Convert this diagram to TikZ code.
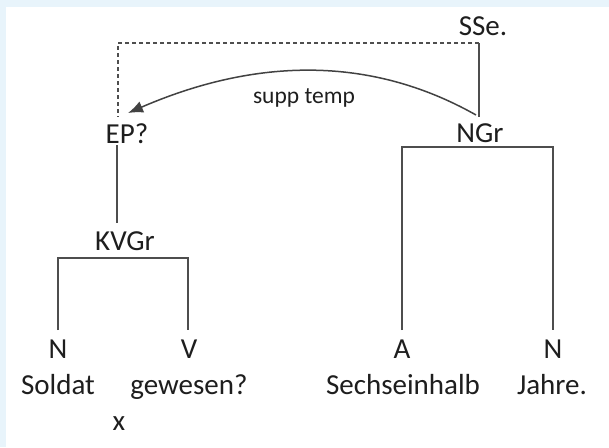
\documentclass[tikz,border=0pt]{standalone}
\usepackage{fontspec}
\setmainfont{Carlito}
\usetikzlibrary{arrows.meta}
\definecolor{bgblue}{HTML}{E8F4FB}
\definecolor{linegray}{HTML}{4E4E4E}
\definecolor{txt}{HTML}{1E1E1E}
\begin{document}
\begin{tikzpicture}[x=1pt,y=-1pt,
  lbl/.style={inner sep=0pt, anchor=base, text=txt, font=\fontsize{29}{31}\selectfont},
  small/.style={inner sep=0pt, anchor=base, text=txt, font=\fontsize{23.5}{25}\selectfont},
  branch/.style={draw=linegray, line width=1.5pt},
  trace/.style={draw=linegray, line width=1.4pt, dash pattern=on 4pt off 3pt},
  rel/.style={draw=linegray!85!black, line width=1.5pt, -{Latex[length=15pt,width=12pt]}}]
\fill[bgblue] (0,0) rectangle (609,447);
\fill[white] (6,7) rectangle (609,447);
\useasboundingbox (0,0) rectangle (609,447);
% labels
\node[lbl] (sse) at (483,35) {SSe.};
\node[lbl] (ep) at (127,143) {EP?};
\node[lbl] (ngr) at (480,142) {NGr};
\node[lbl] (kvgr) at (125,250) {KVGr};
\node[lbl] (n1) at (58,358) {N};
\node[lbl] (v) at (189,358) {V};
\node[lbl] (a) at (402,358) {A};
\node[lbl] (n2) at (553,358) {N};
\node[lbl] (soldat) at (58,394) {Soldat};
\node[lbl] (gewesen) at (189,394) {gewesen?};
\node[lbl] (sechs) at (403,394) {Sechseinhalb};
\node[lbl] (jahre) at (552,394) {Jahre.};
\node[lbl] (x) at (119,430) {x};
\node[small] (supp) at (304,103) {supp temp};
% connector ends
\coordinate (sse-b) at (479,43);
\coordinate (ep-t) at (118,117);
\coordinate (ngr-t) at (479,117);
\coordinate (ngr-a) at (476,115);
\coordinate (ep-a) at (128,113);
\coordinate (ep-b) at (117,145);
\coordinate (kv-t) at (117,223);
\coordinate (kv-bl) at (58,258);
\coordinate (kv-br) at (188,258);
\coordinate (n1-t) at (58,330);
\coordinate (v-t) at (188,330);
\coordinate (ngr-bl) at (402,147);
\coordinate (ngr-br) at (553,147);
\coordinate (a-t) at (402,330);
\coordinate (n2-t) at (553,330);
% connectors
\draw[trace] (sse-b) -| (ep-t);
\draw[branch] (sse-b) -- (ngr-t);
\draw[rel] (ngr-a) .. controls (370,55) and (255,58) .. (ep-a);
\draw[branch] (ep-b) -- (kv-t);
\draw[branch] (n1-t) -- (kv-bl) -- (kv-br) -- (v-t);
\draw[branch] (a-t) -- (ngr-bl) -- (ngr-br) -- (n2-t);
\end{tikzpicture}
\end{document}
